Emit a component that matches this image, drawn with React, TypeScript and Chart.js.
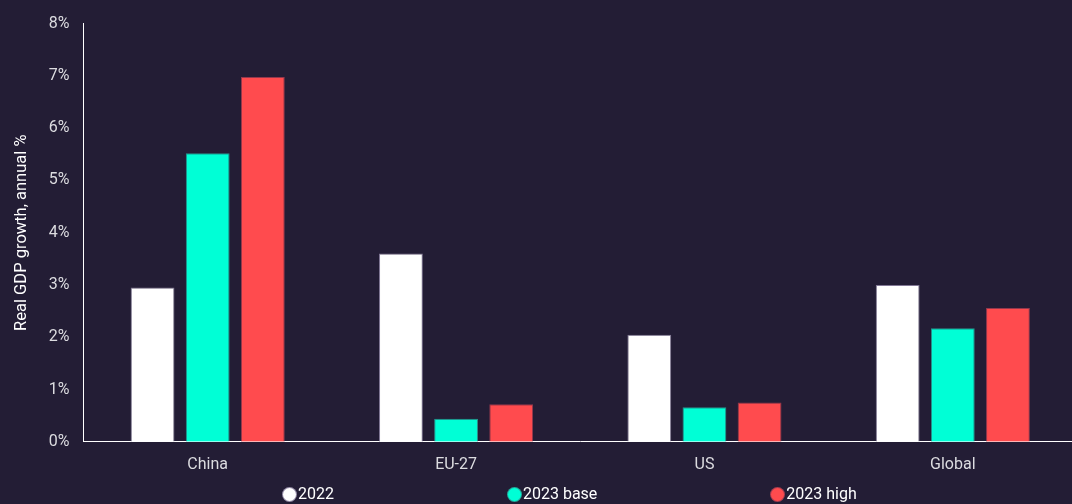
import React, { useEffect, useRef } from "react";
import { Chart, registerables } from "chart.js";

Chart.register(...registerables);

const categories = ["China", "EU-27", "US", "Global"];
const series2022 = [2.95, 3.6, 2.05, 3.0];
const series2023Base = [5.52, 0.44, 0.66, 2.17];
const series2023High = [6.98, 0.72, 0.75, 2.56];
const seriesLabels = ["2022", "2023 base", "2023 high"];
const seriesColors = ["#ffffff", "#00ffd6", "#ff4b4e"];
const seriesBorders = ["rgba(140,130,160,0.9)", "rgba(40,160,150,0.9)", "rgba(160,60,80,0.9)"];
const yTicks = [0, 1, 2, 3, 4, 5, 6, 7, 8];

const BG = "#231d35";
const FONT = "Roboto, 'Liberation Sans', sans-serif";

export default function App() {
  const ref = useRef<HTMLCanvasElement | null>(null);

  useEffect(() => {
    document.body.style.margin = "0";
    document.body.style.background = BG;
    document.documentElement.style.overflow = "hidden";
    const canvas = ref.current;
    if (!canvas) return;
    const bgPlugin = {
      id: "bg",
      beforeDraw(chart: any) {
        const { ctx, width, height } = chart;
        ctx.save();
        ctx.fillStyle = BG;
        ctx.fillRect(0, 0, width, height);
        ctx.restore();
      },
    };
    const values = [series2022, series2023Base, series2023High];
    const chart = new Chart(canvas, {
      type: "bar",
      data: {
        labels: categories,
        datasets: values.map((d, i) => ({
          label: seriesLabels[i],
          data: d,
          backgroundColor: seriesColors[i],
          borderColor: seriesBorders[i],
          borderWidth: 1,
        })),
      },
      options: {
        responsive: false,
        animation: false,
        maintainAspectRatio: false,
        layout: { padding: { left: 0, right: 0, top: 21, bottom: 15 } },
        datasets: {
          bar: { categoryPercentage: 0.666, barPercentage: 0.795 },
        },
        plugins: {
          legend: { display: false },
          tooltip: { enabled: false },
        },
        scales: {
          x: {
            grid: { display: false, drawTicks: false },
            border: { display: true, color: "#ffffff", width: 1 },
            ticks: {
              color: "#dcdce0",
              font: { family: FONT, size: 16 },
              padding: 14,
            },
          },
          y: {
            min: 0,
            max: 8,
            afterBuildTicks(scale: any) {
              scale.ticks = yTicks.map((v) => ({ value: v }));
            },
            grid: { display: false, drawTicks: false },
            border: { display: true, color: "#ffffff", width: 1 },
            ticks: {
              color: "#dcdce0",
              font: { family: FONT, size: 16 },
              padding: 14,
              callback: (v: any) => v + "%",
            },
            title: {
              display: true,
              text: "Real GDP growth, annual %",
              color: "#ffffff",
              font: { family: FONT, size: 16.5 },
              padding: { top: 12, bottom: 3 },
            },
          },
        },
      },
      plugins: [bgPlugin],
    });
    return () => chart.destroy();
  }, []);

  return (
    <div style={{ position: "fixed", left: 0, top: 0, width: 1072, height: 504, overflow: "hidden", background: BG }}>
      <canvas ref={ref} width={1077} height={504} style={{ width: 1077, height: 504, display: "block" }} />
      <div
        style={{
          position: "absolute",
          left: 282,
          top: 485,
          display: "flex",
          gap: 173,
          fontFamily: FONT,
          fontSize: 16,
          lineHeight: "18px",
          color: "#ffffff",
        }}
      >
        {seriesLabels.map((l, i) => (
          <div key={l} style={{ display: "flex", alignItems: "center" }}>
            <span
              style={{
                display: "inline-block",
                width: 15,
                height: 15,
                borderRadius: "50%",
                background: seriesColors[i],
                boxSizing: "border-box",
                border: "1px solid " + seriesBorders[i],
                marginRight: 1,
              }}
            />
            <span>{l}</span>
          </div>
        ))}
      </div>
    </div>
  );
}
